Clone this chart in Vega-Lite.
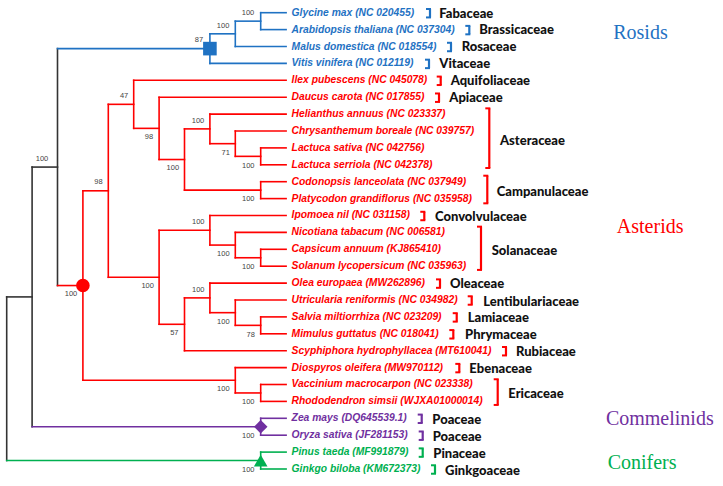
{
 "$schema": "https://vega.github.io/schema/vega-lite/v6.json",
 "width": 723, "height": 486, "padding": 0, "autosize": {"type": "none"},
 "background": "white",
 "config": {"view": {"stroke": null}},
 "datasets": {
  "nodes": [
   {"x":0,"y":16.8174,"y2":26.5,"c":"k"},
   {"x":1,"y":9.1348,"y2":24.5,"c":"k"},
   {"x":2,"y":2.125,"y2":16.1445,"c":"k"},
   {"x":8,"y":1.25,"y2":3,"c":"b"},
   {"x":9,"y":0.5,"y2":2,"c":"b"},
   {"x":10,"y":0,"y2":1,"c":"b"},
   {"x":3,"y":10.5391,"y2":21.75,"c":"r"},
   {"x":4,"y":5.4219,"y2":15.6563,"c":"r"},
   {"x":5,"y":4,"y2":6.8438,"c":"r"},
   {"x":6,"y":5,"y2":8.6875,"c":"r"},
   {"x":7,"y":6.875,"y2":10.5,"c":"r"},
   {"x":8,"y":6,"y2":7.75,"c":"r"},
   {"x":9,"y":7,"y2":8.5,"c":"r"},
   {"x":10,"y":8,"y2":9,"c":"r"},
   {"x":10,"y":10,"y2":11,"c":"r"},
   {"x":6,"y":12.875,"y2":18.4375,"c":"r"},
   {"x":8,"y":12,"y2":13.75,"c":"r"},
   {"x":9,"y":13,"y2":14.5,"c":"r"},
   {"x":10,"y":14,"y2":15,"c":"r"},
   {"x":7,"y":16.875,"y2":20,"c":"r"},
   {"x":8,"y":16,"y2":17.75,"c":"r"},
   {"x":9,"y":17,"y2":18.5,"c":"r"},
   {"x":10,"y":18,"y2":19,"c":"r"},
   {"x":9,"y":21,"y2":22.5,"c":"r"},
   {"x":10,"y":22,"y2":23,"c":"r"},
   {"x":10,"y":24,"y2":25,"c":"p"},
   {"x":10,"y":26,"y2":27,"c":"g"}
  ],
  "edges": [
   {"x":0,"x2":1,"y":16.8174,"c":"k"},
   {"x":0,"x2":10,"y":26.5,"c":"g"},
   {"x":1,"x2":2,"y":9.1348,"c":"k"},
   {"x":1,"x2":10,"y":24.5,"c":"p"},
   {"x":2,"x2":8,"y":2.125,"c":"b"},
   {"x":2,"x2":3,"y":16.1445,"c":"r"},
   {"x":8,"x2":9,"y":1.25,"c":"b"},
   {"x":8,"x2":11,"y":3,"c":"b"},
   {"x":9,"x2":10,"y":0.5,"c":"b"},
   {"x":9,"x2":11,"y":2,"c":"b"},
   {"x":10,"x2":11,"y":0,"c":"b"},
   {"x":10,"x2":11,"y":1,"c":"b"},
   {"x":3,"x2":4,"y":10.5391,"c":"r"},
   {"x":3,"x2":9,"y":21.75,"c":"r"},
   {"x":4,"x2":5,"y":5.4219,"c":"r"},
   {"x":4,"x2":6,"y":15.6563,"c":"r"},
   {"x":5,"x2":11,"y":4,"c":"r"},
   {"x":5,"x2":6,"y":6.8438,"c":"r"},
   {"x":6,"x2":11,"y":5,"c":"r"},
   {"x":6,"x2":7,"y":8.6875,"c":"r"},
   {"x":7,"x2":8,"y":6.875,"c":"r"},
   {"x":7,"x2":10,"y":10.5,"c":"r"},
   {"x":8,"x2":11,"y":6,"c":"r"},
   {"x":8,"x2":9,"y":7.75,"c":"r"},
   {"x":9,"x2":11,"y":7,"c":"r"},
   {"x":9,"x2":10,"y":8.5,"c":"r"},
   {"x":10,"x2":11,"y":8,"c":"r"},
   {"x":10,"x2":11,"y":9,"c":"r"},
   {"x":10,"x2":11,"y":10,"c":"r"},
   {"x":10,"x2":11,"y":11,"c":"r"},
   {"x":6,"x2":8,"y":12.875,"c":"r"},
   {"x":6,"x2":7,"y":18.4375,"c":"r"},
   {"x":8,"x2":11,"y":12,"c":"r"},
   {"x":8,"x2":9,"y":13.75,"c":"r"},
   {"x":9,"x2":11,"y":13,"c":"r"},
   {"x":9,"x2":10,"y":14.5,"c":"r"},
   {"x":10,"x2":11,"y":14,"c":"r"},
   {"x":10,"x2":11,"y":15,"c":"r"},
   {"x":7,"x2":8,"y":16.875,"c":"r"},
   {"x":7,"x2":11,"y":20,"c":"r"},
   {"x":8,"x2":11,"y":16,"c":"r"},
   {"x":8,"x2":9,"y":17.75,"c":"r"},
   {"x":9,"x2":11,"y":17,"c":"r"},
   {"x":9,"x2":10,"y":18.5,"c":"r"},
   {"x":10,"x2":11,"y":18,"c":"r"},
   {"x":10,"x2":11,"y":19,"c":"r"},
   {"x":9,"x2":11,"y":21,"c":"r"},
   {"x":9,"x2":10,"y":22.5,"c":"r"},
   {"x":10,"x2":11,"y":22,"c":"r"},
   {"x":10,"x2":11,"y":23,"c":"r"},
   {"x":10,"x2":11,"y":24,"c":"p"},
   {"x":10,"x2":11,"y":25,"c":"p"},
   {"x":10,"x2":11,"y":26,"c":"g"},
   {"x":10,"x2":11,"y":27,"c":"g"}
  ],
  "leaves": [
   {"x":11,"y":0,"n":"Glycine max (NC 020455)","c":"b"},
   {"x":11,"y":1,"n":"Arabidopsis thaliana (NC 037304)","c":"b"},
   {"x":11,"y":2,"n":"Malus domestica (NC 018554)","c":"b"},
   {"x":11,"y":3,"n":"Vitis vinifera (NC 012119)","c":"b"},
   {"x":11,"y":4,"n":"Ilex pubescens (NC 045078)","c":"r"},
   {"x":11,"y":5,"n":"Daucus carota (NC 017855)","c":"r"},
   {"x":11,"y":6,"n":"Helianthus annuus (NC 023337)","c":"r"},
   {"x":11,"y":7,"n":"Chrysanthemum boreale (NC 039757)","c":"r"},
   {"x":11,"y":8,"n":"Lactuca sativa (NC 042756)","c":"r"},
   {"x":11,"y":9,"n":"Lactuca serriola (NC 042378)","c":"r"},
   {"x":11,"y":10,"n":"Codonopsis lanceolata (NC 037949)","c":"r"},
   {"x":11,"y":11,"n":"Platycodon grandiflorus (NC 035958)","c":"r"},
   {"x":11,"y":12,"n":"Ipomoea nil (NC 031158)","c":"r"},
   {"x":11,"y":13,"n":"Nicotiana tabacum (NC 006581)","c":"r"},
   {"x":11,"y":14,"n":"Capsicum annuum (KJ865410)","c":"r"},
   {"x":11,"y":15,"n":"Solanum lycopersicum (NC 035963)","c":"r"},
   {"x":11,"y":16,"n":"Olea europaea (MW262896)","c":"r"},
   {"x":11,"y":17,"n":"Utricularia reniformis (NC 034982)","c":"r"},
   {"x":11,"y":18,"n":"Salvia miltiorrhiza (NC 023209)","c":"r"},
   {"x":11,"y":19,"n":"Mimulus guttatus (NC 018041)","c":"r"},
   {"x":11,"y":20,"n":"Scyphiphora hydrophyllacea (MT610041)","c":"r"},
   {"x":11,"y":21,"n":"Diospyros oleifera (MW970112)","c":"r"},
   {"x":11,"y":22,"n":"Vaccinium macrocarpon (NC 023338)","c":"r"},
   {"x":11,"y":23,"n":"Rhododendron simsii (WJXA01000014)","c":"r"},
   {"x":11,"y":24,"n":"Zea mays (DQ645539.1)","c":"p"},
   {"x":11,"y":25,"n":"Oryza sativa (JF281153)","c":"p"},
   {"x":11,"y":26,"n":"Pinus taeda (MF991879)","c":"g"},
   {"x":11,"y":27,"n":"Ginkgo biloba (KM672373)","c":"g"}
  ],
  "brackets": [
   {"x":16.665,"y":-0.22,"y2":0.28,"c":"b"},
   {"x":18.213,"y":0.78,"y2":1.28,"c":"b"},
   {"x":17.492,"y":1.78,"y2":2.28,"c":"b"},
   {"x":16.626,"y":2.78,"y2":3.28,"c":"b"},
   {"x":17.087,"y":3.78,"y2":4.28,"c":"r"},
   {"x":17.02,"y":4.78,"y2":5.28,"c":"r"},
   {"x":19.0,"y":5.66,"y2":9.19,"c":"r"},
   {"x":18.921,"y":9.645,"y2":11.28,"c":"r"},
   {"x":16.441,"y":11.78,"y2":12.28,"c":"r"},
   {"x":18.673,"y":12.66,"y2":15.22,"c":"r"},
   {"x":17.059,"y":15.78,"y2":16.28,"c":"r"},
   {"x":18.307,"y":16.78,"y2":17.28,"c":"r"},
   {"x":17.717,"y":17.78,"y2":18.28,"c":"r"},
   {"x":17.583,"y":18.78,"y2":19.28,"c":"r"},
   {"x":19.657,"y":19.78,"y2":20.28,"c":"r"},
   {"x":17.819,"y":20.78,"y2":21.28,"c":"r"},
   {"x":19.331,"y":21.69,"y2":23.21,"c":"r"},
   {"x":16.339,"y":23.78,"y2":24.28,"c":"p"},
   {"x":16.378,"y":24.78,"y2":25.28,"c":"p"},
   {"x":16.378,"y":25.78,"y2":26.28,"c":"g"},
   {"x":16.862,"y":26.78,"y2":27.28,"c":"g"}
  ],
  "families": [
   {"x":17.031,"y":0.05,"t":"Fabaceae"},
   {"x":18.606,"y":1.05,"t":"Brassicaceae"},
   {"x":17.913,"y":2.05,"t":"Rosaceae"},
   {"x":17.031,"y":3.05,"t":"Vitaceae"},
   {"x":17.48,"y":4.05,"t":"Aquifoliaceae"},
   {"x":17.425,"y":5.05,"t":"Apiaceae"},
   {"x":19.421,"y":7.59,"t":"Asteraceae"},
   {"x":19.291,"y":10.63,"t":"Campanulaceae"},
   {"x":16.862,"y":12.07,"t":"Convolvulaceae"},
   {"x":19.094,"y":14.1,"t":"Solanaceae"},
   {"x":17.453,"y":16.07,"t":"Oleaceae"},
   {"x":18.764,"y":17.1,"t":"Lentibulariaceae"},
   {"x":18.15,"y":18.05,"t":"Lamiaceae"},
   {"x":18.043,"y":19.07,"t":"Phrymaceae"},
   {"x":20.051,"y":20.1,"t":"Rubiaceae"},
   {"x":18.213,"y":21.08,"t":"Ebenaceae"},
   {"x":19.748,"y":22.58,"t":"Ericaceae"},
   {"x":16.756,"y":24.1,"t":"Poaceae"},
   {"x":16.772,"y":25.09,"t":"Poaceae"},
   {"x":16.795,"y":26.1,"t":"Pinaceae"},
   {"x":17.256,"y":27.1,"t":"Ginkgoaceae"}
  ],
  "support": [
   {"x":1.39,"y":8.66,"t":"100"},
   {"x":7.57,"y":1.62,"t":"87"},
   {"x":8.52,"y":0.79,"t":"100"},
   {"x":9.5,"y":0.02,"t":"100"},
   {"x":4.62,"y":4.93,"t":"47"},
   {"x":5.6,"y":7.34,"t":"98"},
   {"x":7.53,"y":6.39,"t":"100"},
   {"x":8.62,"y":8.3,"t":"71"},
   {"x":9.51,"y":9.05,"t":"100"},
   {"x":6.54,"y":9.19,"t":"100"},
   {"x":9.51,"y":11.04,"t":"100"},
   {"x":3.61,"y":10.02,"t":"98"},
   {"x":7.54,"y":12.38,"t":"100"},
   {"x":8.53,"y":14.3,"t":"100"},
   {"x":9.51,"y":15.05,"t":"100"},
   {"x":5.55,"y":16.17,"t":"100"},
   {"x":7.54,"y":16.39,"t":"100"},
   {"x":8.53,"y":18.31,"t":"100"},
   {"x":9.61,"y":19.07,"t":"78"},
   {"x":6.6,"y":18.97,"t":"57"},
   {"x":8.53,"y":22.28,"t":"100"},
   {"x":9.51,"y":23.04,"t":"100"},
   {"x":2.53,"y":16.66,"t":"100"},
   {"x":9.51,"y":25.05,"t":"100"},
   {"x":9.51,"y":27.06,"t":"100"}
  ],
  "markers": [
   {"x":8,"y":2.125,"c":"b"},
   {"x":3,"y":16.1445,"c":"r"},
   {"x":10,"y":24.5,"c":"p"},
   {"x":10,"y":26.5,"c":"g"}
  ],
  "groups": [
   {"x":23.88,"y":1.22,"t":"Rosids","c":"b"},
   {"x":24.02,"y":12.66,"t":"Asterids","c":"r"},
   {"x":23.59,"y":24.06,"t":"Commelinids","c":"p"},
   {"x":23.66,"y":26.63,"t":"Conifers","c":"g"}
  ]
 },
 "encoding": {
  "x": {"field": "x", "type": "quantitative", "scale": {"domain": [-0.2638, 28.2008], "nice": false, "zero": false}, "axis": null},
  "y": {"field": "y", "type": "quantitative", "scale": {"domain": [-0.7515, 28.006], "nice": false, "zero": false, "reverse": true}, "axis": null}
 },
 "layer": [
  {
   "data": {"name": "nodes"},
   "mark": {"type": "rule", "strokeWidth": 1.6, "strokeCap": "square"},
   "encoding": {
    "y2": {"field": "y2"},
    "color": {"field": "c", "type": "nominal", "scale": {"domain": ["k","b","r","p","g"], "range": ["#333333","#1F72C3","#FF0000","#7030A0","#00B050"]}, "legend": null}
   }
  },
  {
   "data": {"name": "edges"},
   "mark": {"type": "rule", "strokeWidth": 1.6, "strokeCap": "square"},
   "encoding": {
    "x2": {"field": "x2"},
    "color": {"field": "c", "type": "nominal", "legend": null}
   }
  },
  {
   "data": {"name": "brackets"},
   "mark": {"type": "rule", "strokeWidth": 2.2},
   "encoding": {
    "y2": {"field": "y2"},
    "color": {"field": "c", "type": "nominal", "legend": null}
   }
  },
  {
   "data": {"name": "brackets"},
   "mark": {"type": "rule", "strokeWidth": 2, "xOffset": -4, "x2Offset": 1},
   "encoding": {
    "x2": {"field": "x"},
    "color": {"field": "c", "type": "nominal", "legend": null}
   }
  },
  {
   "data": {"name": "brackets"},
   "mark": {"type": "rule", "strokeWidth": 2, "xOffset": -4, "x2Offset": 1},
   "encoding": {
    "x2": {"field": "x"},
    "y": {"field": "y2", "type": "quantitative", "scale": {"domain": [-0.7515, 28.006], "nice": false, "zero": false, "reverse": true}, "axis": null},
    "color": {"field": "c", "type": "nominal", "legend": null}
   }
  },
  {
   "data": {"name": "markers"},
   "mark": {"type": "point", "filled": true, "opacity": 1, "size": 185},
   "encoding": {
    "shape": {"field": "c", "type": "nominal", "scale": {"domain": ["b","r","p","g"], "range": ["square","circle","diamond","triangle-up"]}, "legend": null},
    "color": {"field": "c", "type": "nominal", "legend": null}
   }
  },
  {
   "data": {"name": "leaves"},
   "mark": {"type": "text", "align": "left", "baseline": "middle", "dx": 5.5, "font": "Liberation Sans", "fontSize": 10.3, "fontStyle": "italic", "fontWeight": "bold"},
   "encoding": {
    "text": {"field": "n"},
    "color": {"field": "c", "type": "nominal", "legend": null}
   }
  },
  {
   "data": {"name": "families"},
   "mark": {"type": "text", "align": "left", "baseline": "middle", "font": "Lato", "fontSize": 13, "fontWeight": 900, "color": "#111111"},
   "encoding": {"text": {"field": "t"}}
  },
  {
   "data": {"name": "support"},
   "mark": {"type": "text", "align": "center", "baseline": "middle", "font": "Liberation Sans", "fontSize": 7.5, "color": "#444444"},
   "encoding": {"text": {"field": "t"}}
  },
  {
   "data": {"name": "groups"},
   "mark": {"type": "text", "align": "left", "baseline": "middle", "font": "Liberation Serif", "fontSize": 20},
   "encoding": {
    "text": {"field": "t"},
    "color": {"field": "c", "type": "nominal", "legend": null}
   }
  }
 ]
}
